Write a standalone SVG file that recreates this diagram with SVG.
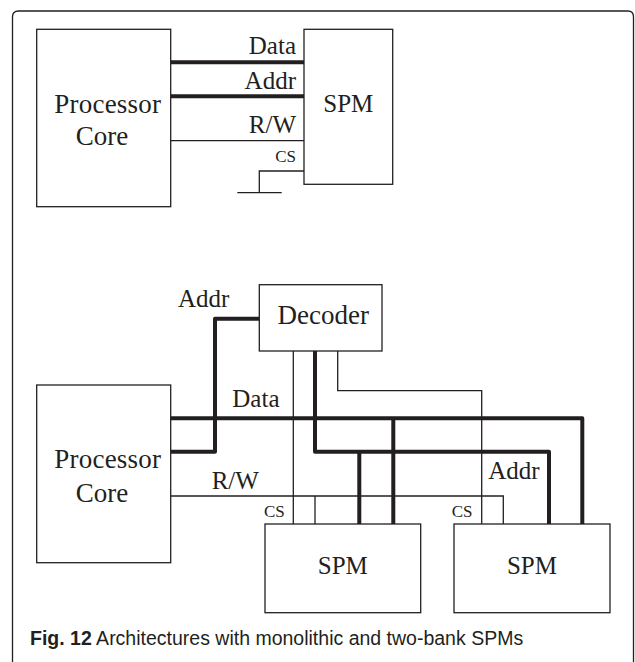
<svg xmlns="http://www.w3.org/2000/svg" width="635" height="662" viewBox="0 0 635 662">
<defs>
<style>
.box{fill:#fff;stroke:#231f20;stroke-width:1.3}
.thin{fill:none;stroke:#231f20;stroke-width:1.3}
.thick{fill:none;stroke:#231f20;stroke-width:4;stroke-linejoin:round}
.big{font-family:"Liberation Serif","Times New Roman",serif;font-size:27px;fill:#231f20}
.lbl{font-family:"Liberation Serif","Times New Roman",serif;font-size:25px;fill:#231f20}
.cs{font-family:"Liberation Serif","Times New Roman",serif;font-size:17px;fill:#231f20}
.cap{font-family:"Liberation Sans",Arial,sans-serif;font-size:19.5px;fill:#231f20}
</style>
</defs>
<rect width="635" height="662" fill="#fff"/>
<path class="thin" d="M12.5,662 V17 Q12.5,11 18.5,11 H628 Q633.5,11 633.5,17 V662"/>

<!-- Top: monolithic -->
<g id="connectors-top">
<line class="thick" x1="170.7" y1="62.3" x2="304" y2="62.3"/>
<line class="thick" x1="170.7" y1="96.3" x2="304" y2="96.3"/>
<line class="thin" x1="170.7" y1="140.7" x2="304" y2="140.7"/>
<path class="thin" d="M304,171 H259.3 V192.7 M237.3,192.7 H281.7"/>
<text class="lbl" x="296" y="54.3" text-anchor="end">Data</text>
<text class="lbl" x="296" y="89" text-anchor="end">Addr</text>
<text class="lbl" x="296" y="132.7" text-anchor="end">R/W</text>
<text class="cs" x="296" y="161.7" text-anchor="end">CS</text>
</g>
<g id="core-top">
<rect class="box" x="36.7" y="29.3" width="134" height="177.4"/>
<text class="big" x="54.3" y="113" textLength="106.7">Processor</text>
<text class="big" x="102" y="145" text-anchor="middle">Core</text>
</g>
<g id="spm-top">
<rect class="box" x="304" y="29.3" width="88.7" height="155"/>
<text class="lbl" x="348.3" y="111.7" text-anchor="middle">SPM</text>
</g>

<!-- Bottom: two-bank -->
<g id="connectors-bottom">
<path class="thick" d="M259.3,318.7 H215 V451.7 H170.7"/>
<path class="thick" d="M170.7,418.3 H582.3 V524 M393.3,418.3 V524"/>
<path class="thick" d="M315,351 V451.7 H549 V524 M359.3,451.7 V524"/>
<path class="thin" d="M293.3,351 V524"/>
<path class="thin" d="M337.7,351 V390.7 H481.7 V524"/>
<path class="thin" d="M170.7,496 H503.3 V524 M315,496 V524"/>
<text class="lbl" x="178" y="307.3">Addr</text>
<text class="lbl" x="232.3" y="406.7">Data</text>
<text class="lbl" x="211.7" y="489">R/W</text>
<text class="lbl" x="488.3" y="479.3">Addr</text>
<text class="cs" x="264" y="516.7">CS</text>
<text class="cs" x="451.7" y="516.7">CS</text>
</g>
<g id="decoder">
<rect class="box" x="259.3" y="284.7" width="122.7" height="66.3"/>
<text class="big" x="323.3" y="324" text-anchor="middle">Decoder</text>
</g>
<g id="core-bottom">
<rect class="box" x="36.7" y="385" width="134" height="177.7"/>
<text class="big" x="54.3" y="468.3" textLength="106.7">Processor</text>
<text class="big" x="102" y="501.7" text-anchor="middle">Core</text>
</g>
<g id="spm-1">
<rect class="box" x="265" y="524" width="155.7" height="88.7"/>
<text class="lbl" x="342.8" y="574" text-anchor="middle">SPM</text>
</g>
<g id="spm-2">
<rect class="box" x="454" y="524" width="156" height="88.7"/>
<text class="lbl" x="532" y="574" text-anchor="middle">SPM</text>
</g>

<text class="cap" x="30" y="645"><tspan font-weight="bold">Fig. 12</tspan> Architectures with monolithic and two-bank SPMs</text>
</svg>
